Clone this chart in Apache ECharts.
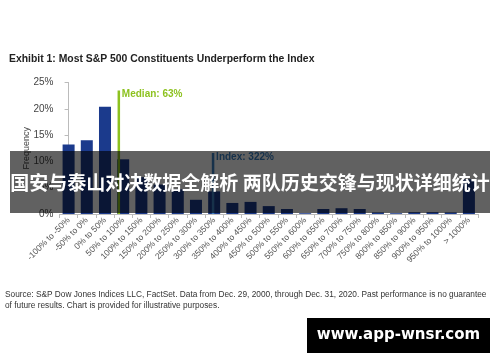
<!DOCTYPE html>
<html>
<head>
<meta charset="utf-8">
<script src="https://cdn.jsdelivr.net/npm/echarts@6/dist/echarts.min.js"></script>
<style>
html,body{margin:0;padding:0;background:#fff;}
#chart{width:500px;height:362px;}
</style>
</head>
<body>
<div id="chart"></div>
<script>
const categories = ['-100% to -50%','-50% to 0%','0% to 50%','50% to 100%','100% to 150%','150% to 200%','200% to 250%','250% to 300%','300% to 350%','350% to 400%','400% to 450%','450% to 500%','500% to 550%','550% to 600%','600% to 650%','650% to 700%','700% to 750%','750% to 800%','800% to 850%','850% to 900%','900% to 950%','950% to 1000%','> 1000%'];
const frequency = [13.2, 14.0, 20.4, 10.4, 7.0, 5.6, 4.7, 2.7, 4.3, 2.1, 2.3, 1.5, 0.95, 0.15, 0.95, 1.1, 0.95, 0.3, 0.15, 0.35, 0.35, 0.3, 6.6];
const yTicks = [0, 5, 10, 15, 20, 25];
const median = {label: 'Median: 63%', value: 63, height: 23.5};
const indexRet = {label: 'Index: 322%', value: 322, height: 11.6};
const binStart = -100, binWidth = 50;

function binPos(v){ return (v - binStart) / binWidth - 0.5; }

const chart = echarts.init(document.getElementById('chart'));
const font = 'Liberation Sans, Arial, sans-serif';
function vline(m, color){
  const x = binPos(m.value);
  return {
    type: 'line', xAxisIndex: 1, yAxisIndex: 0, silent: true,
    symbol: 'none', lineStyle: {color: color, width: 2.5},
    data: [
      {value: [x, 0]},
      {value: [x, m.height], symbol: 'circle', symbolSize: 0.1,
       label: {show: true, position: 'right', distance: 3, offset: [0, 4], formatter: m.label,
               color: color, fontWeight: 'bold', fontSize: 10, fontFamily: font}}
    ],
    z: 5
  };
}
chart.setOption({
  animation: false,
  title: {text: 'Exhibit 1: Most S&P 500 Constituents Underperform the Index', left: 4, top: 49,
    textStyle: {fontSize: 10.4, fontWeight: 'bold', color: '#222', fontFamily: font}},
  grid: {left: 59.5, right: 22, top: 82.5, bottom: 148},
  xAxis: [{
    type: 'category', data: categories,
    axisLine: {lineStyle: {color: '#bbb'}},
    axisTick: {show: true, length: 4, lineStyle: {color: '#bbb'}},
    axisLabel: {rotate: 45, fontSize: 8.5, color: '#555', fontFamily: font, margin: 5, interval: 0}
  }, {
    type: 'value', min: -0.5, max: categories.length - 0.5, show: false
  }],
  yAxis: {
    type: 'value', min: yTicks[0], max: yTicks[yTicks.length-1], interval: 5,
    name: 'Frequency', nameLocation: 'middle', nameRotate: 90, nameGap: 28, nameMoveOverlap: false,
    nameTextStyle: {fontSize: 9, color: '#444', fontFamily: font},
    axisLine: {show: true, lineStyle: {color: '#bbb'}},
    axisTick: {show: true, length: 4, lineStyle: {color: '#bbb'}},
    splitLine: {show: false},
    axisLabel: {formatter: '{value}%', fontSize: 10, color: '#444', fontFamily: font, margin: 6}
  },
  series: [
    {type: 'bar', data: frequency, barWidth: 12, itemStyle: {color: '#1b3a8c'}, z: 2},
    vline(median, '#8dc21f'),
    vline(indexRet, '#3d80c2')
  ],
  graphic: [
    {type: 'text', left: 5, top: 289, style: {
      text: 'Source: S&P Dow Jones Indices LLC, FactSet. Data from Dec. 29, 2000, through Dec. 31, 2020. Past performance is no guarantee\nof future results. Chart is provided for illustrative purposes.',
      fontSize: 8.3, lineHeight: 11, fill: '#333', fontFamily: font}},
    {type: 'rect', shape: {x: 10, y: 151, width: 480, height: 62}, style: {fill: 'rgba(0,0,0,0.62)'}, z: 100},
    {type: 'text', x: 250, y: 183, z: 101, style: {
      text: '国安与泰山对决数据全解析 两队历史交锋与现状详细统计', fill: '#fff', fontSize: 19,
      fontWeight: 'bold', fontFamily: 'Noto Sans CJK SC', align: 'center', verticalAlign: 'middle'}},
    {type: 'rect', shape: {x: 307, y: 318, width: 183, height: 35}, style: {fill: '#000'}, z: 100},
    {type: 'text', x: 398.5, y: 335.5, z: 101, style: {
      text: 'www.app-wnsr.com', fill: '#fff', fontSize: 15, fontWeight: 'bold',
      fontFamily: 'DejaVu Sans, sans-serif', align: 'center', verticalAlign: 'middle'}}
  ]
});
</script>
</body>
</html>
